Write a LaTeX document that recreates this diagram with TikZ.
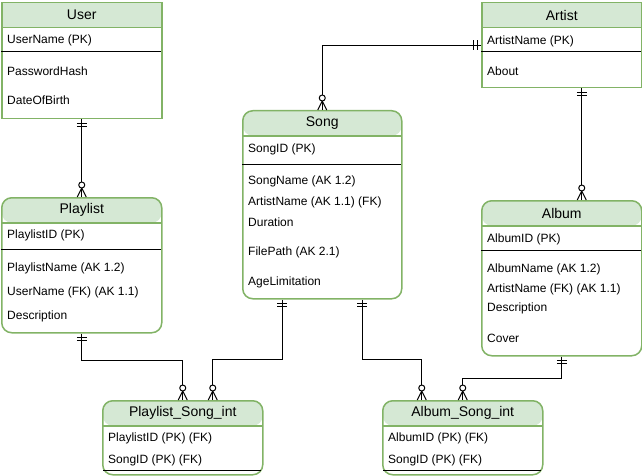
\documentclass[tikz,border=0pt]{standalone}
\usepackage{fontspec}
\setmainfont{Liberation Sans}
\usetikzlibrary{calc}
\definecolor{hdrfill}{HTML}{D5E8D4}
\definecolor{hdrline}{HTML}{82B366}
\tikzset{
  entity/.style={rectangle, draw=hdrline, line width=1.5pt, fill=white, inner sep=0pt, anchor=north west,
    path picture={
      \fill[hdrfill] (path picture bounding box.north west) rectangle ([yshift=-25pt]path picture bounding box.north east);
      \draw[hdrline, line width=1.5pt] ([yshift=-25pt]path picture bounding box.north west) -- ([yshift=-25pt]path picture bounding box.north east);
    }},
  roundent/.style={entity, rounded corners=10pt},
  title/.style={inner sep=0pt, font=\fontsize{14}{16}\selectfont},
  row/.style={inner sep=0pt, anchor=west, font=\fontsize{12}{14}\selectfont},
  sepline/.style={line width=1pt, black},
  conn/.style={line width=1pt, black},
}
\newcommand\mandbelow[1]{\draw[conn] ($#1+(-5,4)$) -- ($#1+(5,4)$) ($#1+(-5,7)$) -- ($#1+(5,7)$);}
\newcommand\mandleft[1]{\draw[conn] ($#1+(-4,-5)$) -- ($#1+(-4,5)$) ($#1+(-8,-5)$) -- ($#1+(-8,5)$);}
\newcommand\crowabove[1]{\draw[conn] ($#1+(-4.5,0)$) -- ($#1+(0,-9)$) -- ($#1+(4.5,0)$);
  \draw[conn, fill=white] ($#1+(0,-12)$) circle (3pt);}
\begin{document}
\begin{tikzpicture}[x=1pt, y=-1pt]
\useasboundingbox (0,0) rectangle (642,476);

% entities
\node[entity, minimum width=160pt, minimum height=116pt] (user) at (1,2) {};
\node[entity, minimum width=160pt, minimum height=85pt] (artist) at (481,2) {};
\node[roundent, minimum width=159pt, minimum height=188pt] (song) at (242,110) {};
\node[roundent, minimum width=160pt, minimum height=135pt] (playlist) at (1,197) {};
\node[roundent, minimum width=160pt, minimum height=155pt] (album) at (481,200) {};
\node[roundent, minimum width=160pt, minimum height=74pt] (psi) at (102,400) {};
\node[roundent, minimum width=160pt, minimum height=74pt] (asi) at (382,400) {};

% titles
\node[title] (userT) at ($(user.north)+(0,13)$) {User};
\node[title] (artistT) at ($(artist.north)+(0,13)$) {Artist};
\node[title] (songT) at ($(song.north)+(0,13)$) {Song};
\node[title] (playlistT) at ($(playlist.north)+(0,13)$) {Playlist};
\node[title] (albumT) at ($(album.north)+(0,13)$) {Album};
\node[title] (psiT) at ($(psi.north)+(0,13)$) {Playlist\_Song\_int};
\node[title] (asiT) at ($(asi.north)+(0,13)$) {Album\_Song\_int};

% separators
\draw[sepline] (1,52) -- (161,52);
\draw[sepline] (481,52) -- (641,52);
\draw[sepline] (242,164) -- (401,164);
\draw[sepline] (1,249) -- (161,249);
\draw[sepline] (481,250) -- (641,250);
\draw[sepline] (103,470) -- (261,470);
\draw[sepline] (383,470) -- (541,470);

% rows
\node[row] (u1) at (7,40) {UserName (PK)};
\node[row] (u2) at (7,71) {PasswordHash};
\node[row] (u3) at (7,100) {DateOfBirth};

\node[row] (a1) at (487,41) {ArtistName (PK)};
\node[row] (a2) at (487,71) {About};

\node[row] (s1) at (248,149) {SongID (PK)};
\node[row] (s2) at (248,181) {SongName (AK 1.2)};
\node[row] (s3) at (248,202) {ArtistName (AK 1.1) (FK)};
\node[row] (s4) at (248,222) {Duration};
\node[row] (s5) at (248,252) {FilePath (AK 2.1)};
\node[row] (s6) at (248,282) {AgeLimitation};

\node[row] (p1) at (7,235) {PlaylistID (PK)};
\node[row] (p2) at (7,268) {PlaylistName (AK 1.2)};
\node[row] (p3) at (7,292) {UserName (FK) (AK 1.1)};
\node[row] (p4) at (7,316) {Description};

\node[row] (al1) at (487,239) {AlbumID (PK)};
\node[row] (al2) at (487,269) {AlbumName (AK 1.2)};
\node[row] (al3) at (487,289) {ArtistName (FK) (AK 1.1)};
\node[row] (al4) at (487,308) {Description};
\node[row] (al5) at (487,338) {Cover};

\node[row] (ps1) at (108,438) {PlaylistID (PK) (FK)};
\node[row] (ps2) at (108,460) {SongID (PK) (FK)};

\node[row] (as1) at (388,438) {AlbumID (PK) (FK)};
\node[row] (as2) at (388,460) {SongID (PK) (FK)};

% connector endpoints
\coordinate (artB) at ($(artist.south)+(20,0)$);
\coordinate (albT) at ($(album.north)+(20,0)$);
\coordinate (songBL) at ($(song.south)+(-40,0)$);
\coordinate (songBR) at ($(song.south)+(40,0)$);
\coordinate (psiTR) at ($(psi.north)+(30,0)$);
\coordinate (asiTL) at ($(asi.north)+(-41,0)$);

% connectors
\draw[conn] (user.south) -- (playlist.north);
\draw[conn] (song.north) |- (artist.west);
\draw[conn] (artB) -- (albT);
\draw[conn] (playlist.south) -- ($(playlist.south)+(0,27)$) -| (psi.north);
\draw[conn] (songBL) |- ($(psiTR)+(0,-41)$) -- (psiTR);
\draw[conn] (songBR) |- ($(asiTL)+(0,-41)$) -- (asiTL);
\draw[conn] (album.south) -- ($(album.south)+(0,22)$) -| (asi.north);

% markers
\mandbelow{(user.south)}
\crowabove{(playlist.north)}
\mandleft{(artist.west)}
\crowabove{(song.north)}
\mandbelow{(artB)}
\crowabove{(albT)}
\mandbelow{(playlist.south)}
\crowabove{(psi.north)}
\mandbelow{(songBL)}
\crowabove{(psiTR)}
\mandbelow{(songBR)}
\crowabove{(asiTL)}
\mandbelow{(album.south)}
\crowabove{(asi.north)}
\end{tikzpicture}
\end{document}
